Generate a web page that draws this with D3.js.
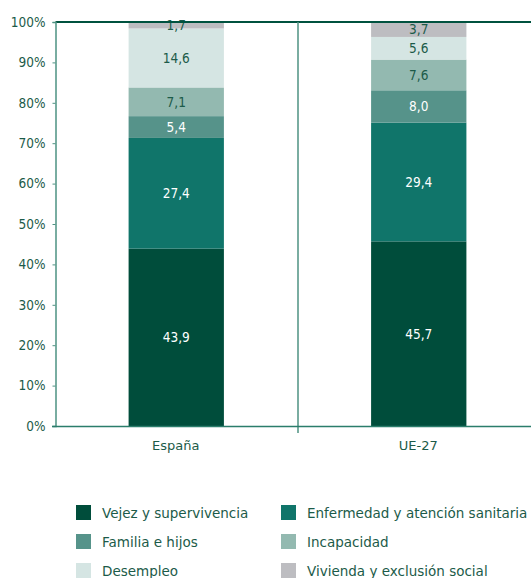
<!DOCTYPE html>
<html>
<head>
<meta charset="utf-8">
<script src="https://cdn.jsdelivr.net/npm/d3@7"></script>
<style>
  body { margin: 0; background: #fff; }
</style>
</head>
<body>
<svg width="531" height="578"></svg>
<script>
// Data
var categorias = ["España", "UE-27"];
var funciones = ["Vejez y supervivencia", "Enfermedad y atención sanitaria", "Familia e hijos",
                 "Incapacidad", "Desempleo", "Vivienda y exclusión social"];
var valoresEspana = [43.9, 27.4, 5.4, 7.1, 14.6, 1.7];
var valoresUE = [45.7, 29.4, 8.0, 7.6, 5.6, 3.7];
var ticksY = [0, 10, 20, 30, 40, 50, 60, 70, 80, 90, 100];

var colores = ["#004d3b", "#10756a", "#56938a", "#93b9b0", "#d5e5e3", "#bdbdc1"];
var colorTexto = ["#ffffff", "#ffffff", "#ffffff", "#1c5b49", "#1c5b49", "#1c5b49"];

var fuenteEstrecha = "'DejaVu Sans Condensed', 'DejaVu Sans', sans-serif";
var fuenteAncha = "'DejaVu Sans', sans-serif";

var svg = d3.select("svg");

// Scales
var x = d3.scaleBand()
    .domain(categorias)
    .range([55.5, 540.5])
    .paddingInner(0)
    .paddingOuter(0);

var y = d3.scaleLinear()
    .domain([0, 100])
    .range([426, 22]);

var anchoBarra = x.bandwidth() * 0.393;

// Stack the data
var filas = categorias.map(function(c, i) {
    var v = i == 0 ? valoresEspana : valoresUE;
    var obj = {cat: c};
    funciones.forEach(function(f, j) { obj[f] = v[j]; });
    return obj;
});
var series = d3.stack().keys(funciones)(filas);

// Bars
var grupos = svg.append("g").selectAll("g")
    .data(series)
  .enter().append("g")
    .attr("fill", function(d, i) { return colores[i]; });

grupos.selectAll("rect")
    .data(function(d) { return d; })
  .enter().append("rect")
    .attr("x", function(d) { return x(d.data.cat) + (x.bandwidth() - anchoBarra) / 2 - 0.5; })
    .attr("width", anchoBarra)
    .attr("y", function(d) { return y(Math.min(d[1], 100)); })
    .attr("height", function(d) { return y(d[0]) - y(Math.min(d[1], 100)); });

// Segment labels
series.forEach(function(s, i) {
    svg.append("g").selectAll("text")
        .data(s)
      .enter().append("text")
        .attr("x", function(d) { return x(d.data.cat) + x.bandwidth() / 2 - 0.5; })
        .attr("y", function(d) { return (y(d[0]) + y(Math.min(d[1], 100))) / 2 + 5; })
        .attr("text-anchor", "middle")
        .style("font-family", fuenteEstrecha)
        .style("font-size", "13.5px")
        .attr("fill", colorTexto[i])
        .text(function(d) { return d3.format(".1f")(d[1] - d[0]).replace(".", ","); });
});

// Top border line
svg.append("line")
    .attr("x1", 55.5).attr("x2", 531)
    .attr("y1", y(100)).attr("y2", y(100))
    .attr("stroke", "#00523f").attr("stroke-width", 2);

// Divider between categories
svg.append("line")
    .attr("x1", x("UE-27")).attr("x2", x("UE-27"))
    .attr("y1", y(100)).attr("y2", 433)
    .attr("stroke", "#4e9282").attr("stroke-width", 1.5);

// Y axis
var ejeY = svg.append("g")
    .attr("transform", "translate(55.5,0)")
    .call(d3.axisLeft(y).tickValues(ticksY).tickSize(3).tickPadding(7)
        .tickFormat(function(d) { return d + "%"; }));
ejeY.select(".domain").attr("stroke", "#4e9282").attr("stroke-width", 1.5);
ejeY.selectAll(".tick line").attr("stroke", "#4e9282");
ejeY.selectAll("text")
    .style("font-family", fuenteEstrecha)
    .style("font-size", "13.5px").attr("fill", "#1c5b49");

// X axis
svg.append("line")
    .attr("x1", 52).attr("x2", 531)
    .attr("y1", 426.5).attr("y2", 426.5)
    .attr("stroke", "#2b7d6b").attr("stroke-width", 1.5);

svg.append("g").selectAll("text")
    .data(categorias)
  .enter().append("text")
    .attr("x", function(d) { return x(d) + x.bandwidth() / 2 - 1; })
    .attr("y", 450)
    .attr("text-anchor", "middle")
    .style("font-family", fuenteAncha)
    .style("font-size", "13px")
    .attr("fill", "#1c5b49")
    .text(function(d) { return d; });

// Legend
var leyenda = svg.append("g").selectAll("g")
    .data(funciones)
  .enter().append("g")
    .attr("transform", function(d, i) {
        return "translate(" + (i % 2 == 0 ? 76 : 281) + "," + (505 + Math.floor(i / 2) * 29) + ")";
    });

leyenda.append("rect")
    .attr("width", 15).attr("height", 15)
    .attr("fill", function(d, i) { return colores[i]; });

leyenda.append("text")
    .attr("x", 26).attr("y", 13)
    .style("font-family", fuenteAncha)
    .style("font-size", "13.5px")
    .attr("fill", "#1c5b49")
    .text(function(d) { return d; });
</script>
</body>
</html>
